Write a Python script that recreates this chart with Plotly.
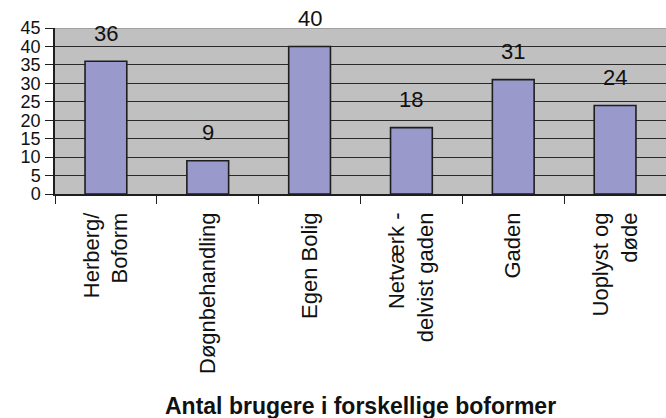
import plotly.graph_objects as go

categories = ["Herberg/<br>Boform", "Døgnbehandling", "Egen Bolig",
              "Netværk -<br>delvist gaden", "Gaden", "Uoplyst og<br>døde"]
values = [36, 9, 40, 18, 31, 24]
y_ticks = [0, 5, 10, 15, 20, 25, 30, 35, 40, 45]
title_text = "Antal brugere i forskellige boformer"

FONT = "Liberation Sans, Arial, sans-serif"
DARK = "#1e1e1e"

fig = go.Figure()
fig.add_trace(go.Bar(
    x=categories, y=values,
    marker=dict(color="#9999cc", line=dict(color=DARK, width=1.6)),
    width=0.41,
    hoverinfo="skip",
))

for c, v in zip(categories, values):
    fig.add_annotation(x=c, y=v, xref="x", yref="y", text=str(v),
                       showarrow=False, yanchor="middle", yshift=28,
                       font=dict(family=FONT, size=22, color="#111"))

fig.add_annotation(x=0.5, y=-1.275, xref="paper", yref="paper", text=f"<b>{title_text}</b>",
                   showarrow=False, yanchor="middle", xanchor="center",
                   font=dict(family=FONT, size=23, color="#111"))

# light top border
fig.add_shape(type="line", xref="paper", yref="y", x0=0, x1=1, y0=45, y1=45,
              line=dict(color="#a0a0a0", width=2), layer="above")

fig.update_layout(
    width=666, height=418,
    margin=dict(l=55, r=0, t=28, b=224),
    paper_bgcolor="white", plot_bgcolor="#c0c0c0",
    showlegend=False,
    font=dict(family=FONT, color="#111"),
)
fig.update_xaxes(
    tickangle=-90, tickson="boundaries", ticks="outside", ticklen=8,
    tickcolor=DARK, tickwidth=1,
    showline=True, linecolor=DARK, linewidth=1.5,
    showgrid=False, tickfont=dict(family=FONT, size=22, color="#111"),
    ticklabelstandoff=8,
)
fig.update_yaxes(
    range=[0, 45], tickvals=y_ticks, ticks="outside", ticklen=8,
    tickcolor=DARK, tickwidth=1,
    showline=True, linecolor=DARK, linewidth=1.5,
    showgrid=True, gridcolor="#2a2a2a", gridwidth=1,
    zeroline=False,
    tickfont=dict(family=FONT, size=18, color="#111"),
    ticklabelstandoff=1,
)

fig.write_html("out.html", config={"displayModeBar": False},
               post_script="document.body.style.margin='0';document.body.style.padding='0';")
